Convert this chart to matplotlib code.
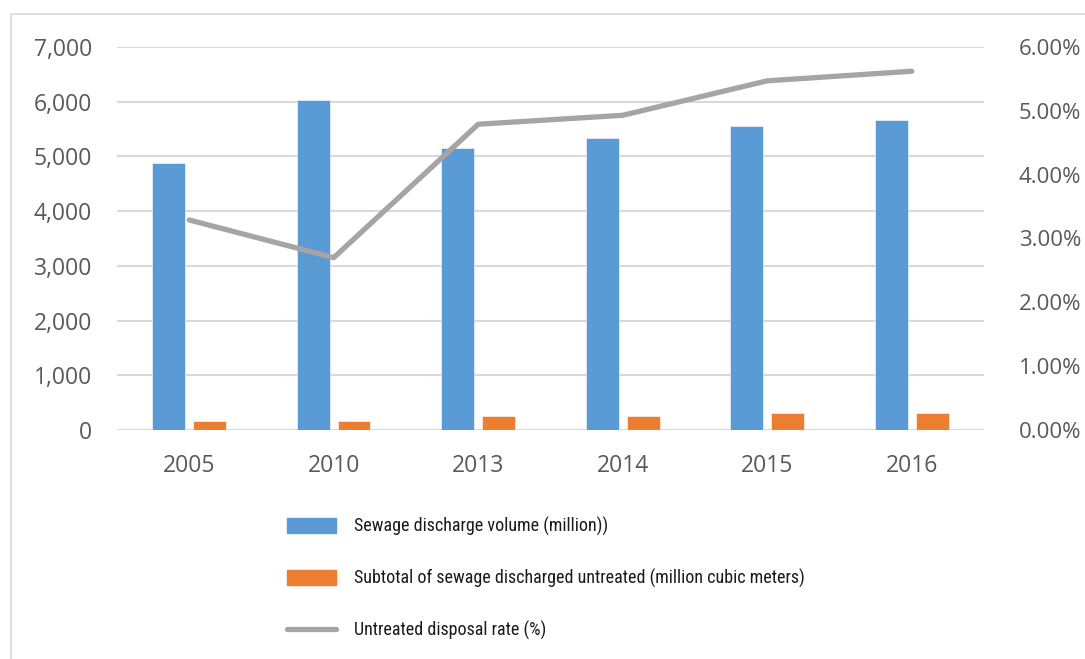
import matplotlib.pyplot as plt
from matplotlib.patches import Rectangle
from matplotlib.lines import Line2D
from matplotlib.ticker import FuncFormatter
import numpy as np

## Data ##
years = ["2005", "2010", "2013", "2014", "2015", "2016"]
discharge_volume = [4880, 6030, 5160, 5345, 5560, 5665]
untreated_volume = [164, 164, 256, 262, 305, 311]
untreated_rate = [3.29, 2.70, 4.79, 4.93, 5.47, 5.62]

labels = [
    "Sewage discharge volume (million))",
    "Subtotal of sewage discharged untreated (million cubic meters)",
    "Untreated disposal rate (%)",
]

blue = "#5B9BD5"
orange = "#ED7D31"
grey_line = "#A5A5A5"
grid_col = "#D9D9D9"
text_col = "#595959"

## Figure ##
fig = plt.figure(figsize=(10.85, 6.59), dpi=100)
ax = fig.add_axes([0.1078, 0.3475, 0.7991, 0.5812])
ax2 = ax.twinx()

x = np.arange(len(years))
w = 0.227
off = 0.141
ax.bar(x - off, discharge_volume, w, color=blue, edgecolor="white", linewidth=0.4, zorder=2)
ax.bar(x + off, untreated_volume, w, color=orange, edgecolor="white", linewidth=0.4, zorder=2)
ax2.plot(x, untreated_rate, color=grey_line, lw=3.8, solid_capstyle="round", solid_joinstyle="round")

ax.set_xlim(-0.5, len(years) - 0.5)
ax.set_ylim(0, 7000)
ax2.set_ylim(0, 6)
ax.set_yticks(range(0, 7001, 1000))
ax2.set_yticks(range(0, 7))
ax.yaxis.set_major_formatter(FuncFormatter(lambda v, p: f"{int(v):,}"))
ax2.yaxis.set_major_formatter(FuncFormatter(lambda v, p: f"{v:.2f}%"))
ax.set_xticks(x)
ax.set_xticklabels(years)

ax.grid(axis="y", color=grid_col, lw=1.5, zorder=0)
ax.set_axisbelow(True)
for a in (ax, ax2):
    for s in ["top", "left", "right", "bottom"]:
        a.spines[s].set_visible(False)
ax.axhline(0, color=grid_col, lw=2.2, zorder=1)

ax.tick_params(axis="both", length=0, colors=text_col, labelsize=16.5)
ax2.tick_params(axis="y", length=0, colors=text_col, labelsize=16)
ax.tick_params(axis="y", pad=18)
ax2.tick_params(axis="y", pad=25)
ax.tick_params(axis="x", pad=17)
for lab in ax.get_xticklabels() + ax.get_yticklabels() + ax2.get_yticklabels():
    lab.set_fontfamily("Open Sans")

## Legend ##
handles = [
    Rectangle((0, 0), 1, 1, color=blue),
    Rectangle((0, 0), 1, 1, color=orange),
    Line2D([], [], color=grey_line, lw=3.8, solid_capstyle="round"),
]
leg = fig.legend(handles, labels, loc="upper left", bbox_to_anchor=(0.2578, 0.226),
                 frameon=False, handlelength=2.7, handleheight=0.9, handletextpad=1.0,
                 labelspacing=1.8, borderaxespad=0,
                 prop={"family": ["Roboto Condensed", "DejaVu Sans"], "size": 13})
for t in leg.get_texts():
    t.set_color("#1a1a1a")

## Outer frame ##
fig.add_artist(Rectangle((11 / 1085, -0.1), 1.2, (659 - 14) / 659 + 0.1, transform=fig.transFigure,
                         fill=False, edgecolor="#D9D9D9", lw=1.2))

fig.savefig("out.png", dpi=100)
